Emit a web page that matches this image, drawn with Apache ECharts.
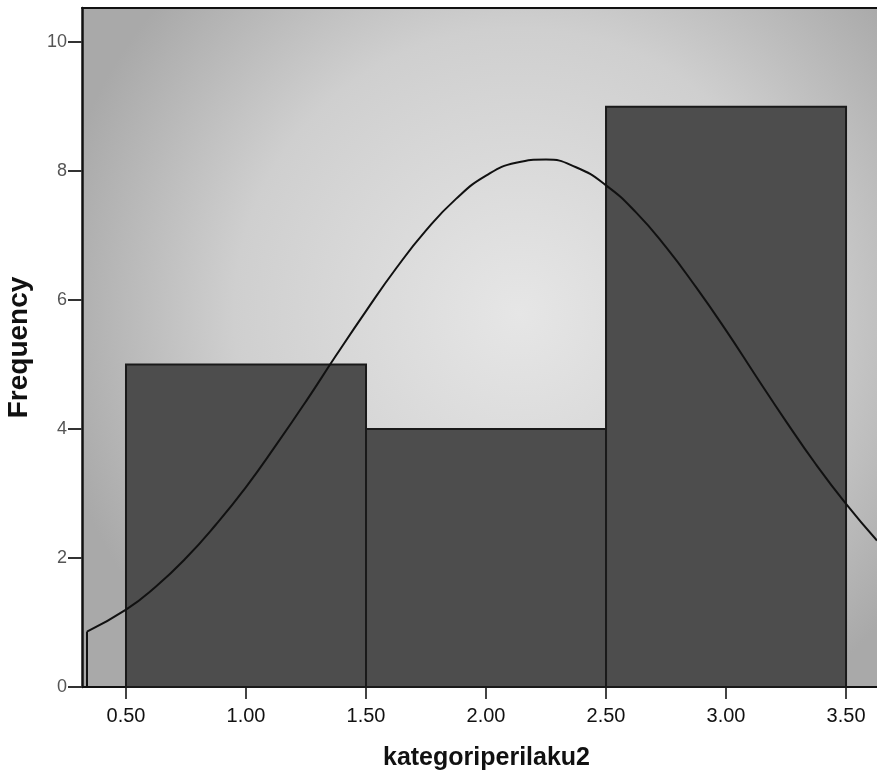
<!DOCTYPE html>
<html><head><meta charset="utf-8">
<script src="https://cdn.jsdelivr.net/npm/echarts@6/dist/echarts.min.js"></script>
<style>html,body{margin:0;padding:0;background:#fff}#c{width:877px;height:784px}</style>
</head><body><div id="c"></div>
<script>
var binStart = [0.5, 1.5, 2.5];
var binEnd = [1.5, 2.5, 3.5];
var counts = [5, 4, 9];
var curveX = [0.3375, 0.5, 0.625, 0.75, 0.875, 1.0, 1.125, 1.25, 1.375, 1.5, 1.625, 1.75, 1.875, 2.0, 2.125, 2.25, 2.375, 2.5, 2.625, 2.75, 2.875, 3.0, 3.125, 3.25, 3.375, 3.5, 3.629];
var curveY = [0.86, 1.2, 1.56, 2.0, 2.52, 3.1, 3.75, 4.43, 5.14, 5.83, 6.49, 7.08, 7.57, 7.93, 8.13, 8.18, 8.06, 7.78, 7.36, 6.82, 6.2, 5.53, 4.82, 4.12, 3.45, 2.84, 2.27];
var xTicks = [0.5, 1.0, 1.5, 2.0, 2.5, 3.0, 3.5];
var yTicks = [0, 2, 4, 6, 8, 10];

var chart = echarts.init(document.getElementById('c'));
var curve = curveX.map(function (x, i) { return [x, curveY[i]]; });
var bars = binStart.map(function (s, i) { return [s, binEnd[i], counts[i]]; });

chart.setOption({
  animation: false,
  grid: {
    left: 82, right: 0, top: 8, bottom: 97,
    outerBoundsMode: 'none',
    containLabel: false,
    show: true,
    borderWidth: 0,
    backgroundColor: new echarts.graphic.RadialGradient(0.55, 0.45, 0.7, [
      { offset: 0, color: '#e6e6e6' },
      { offset: 0.6, color: '#cfcfcf' },
      { offset: 1, color: '#a9a9a9' }
    ])
  },
  xAxis: [{
    type: 'value', min: 0.3167, max: 3.629,
    name: 'kategoriperilaku2', nameLocation: 'middle', nameGap: 59,
    nameTextStyle: { fontFamily: 'Liberation Sans', fontWeight: 'bold', fontSize: 25, color: '#111', padding: [0, 0, 0, 14] },
    axisLine: { show: true, lineStyle: { color: '#111', width: 2 } },
    axisTick: { show: true, length: 12, lineStyle: { color: '#444', width: 2 }, customValues: xTicks },
    axisLabel: { fontFamily: 'Liberation Sans', fontSize: 20, color: '#111', margin: 19,
      customValues: xTicks, formatter: function (v) { return v.toFixed(2); } },
    splitLine: { show: false }
  }, {
    type: 'value', position: 'top', min: 0.3167, max: 3.629,
    axisLine: { show: true, lineStyle: { color: '#111', width: 2 } },
    axisTick: { show: false }, axisLabel: { show: false }, splitLine: { show: false }
  }],
  yAxis: {
    type: 'value', min: 0, max: 10.53, interval: 2,
    name: 'Frequency', nameLocation: 'middle', nameGap: 49, nameRotate: 90,
    nameTextStyle: { fontFamily: 'Liberation Sans', fontWeight: 'bold', fontSize: 28, color: '#111' },
    axisLine: { show: true, lineStyle: { color: '#111', width: 2.5 } },
    axisTick: { show: true, length: 14, lineStyle: { color: '#333', width: 2 }, customValues: yTicks },
    axisLabel: { fontFamily: 'Liberation Sans', fontSize: 18, color: '#555', margin: 15,
      customValues: yTicks },
    splitLine: { show: false }
  },
  series: [
    {
      type: 'custom',
      data: bars,
      renderItem: function (params, api) {
        var p0 = api.coord([api.value(0), api.value(2)]);
        var p1 = api.coord([api.value(1), 0]);
        return {
          type: 'rect',
          shape: { x: p0[0], y: p0[1], width: p1[0] - p0[0], height: p1[1] - p0[1] },
          style: { fill: '#4d4d4d', stroke: '#1a1a1a', lineWidth: 2 }
        };
      },
      z: 2
    },
    {
      type: 'line', data: curve, smooth: true, symbol: 'none',
      lineStyle: { color: '#111', width: 2 }, z: 3
    },
    {
      type: 'line', data: [[curveX[0], 0], curve[0]], symbol: 'none',
      lineStyle: { color: '#111', width: 2 }, z: 3
    }
  ]
});
</script></body></html>
